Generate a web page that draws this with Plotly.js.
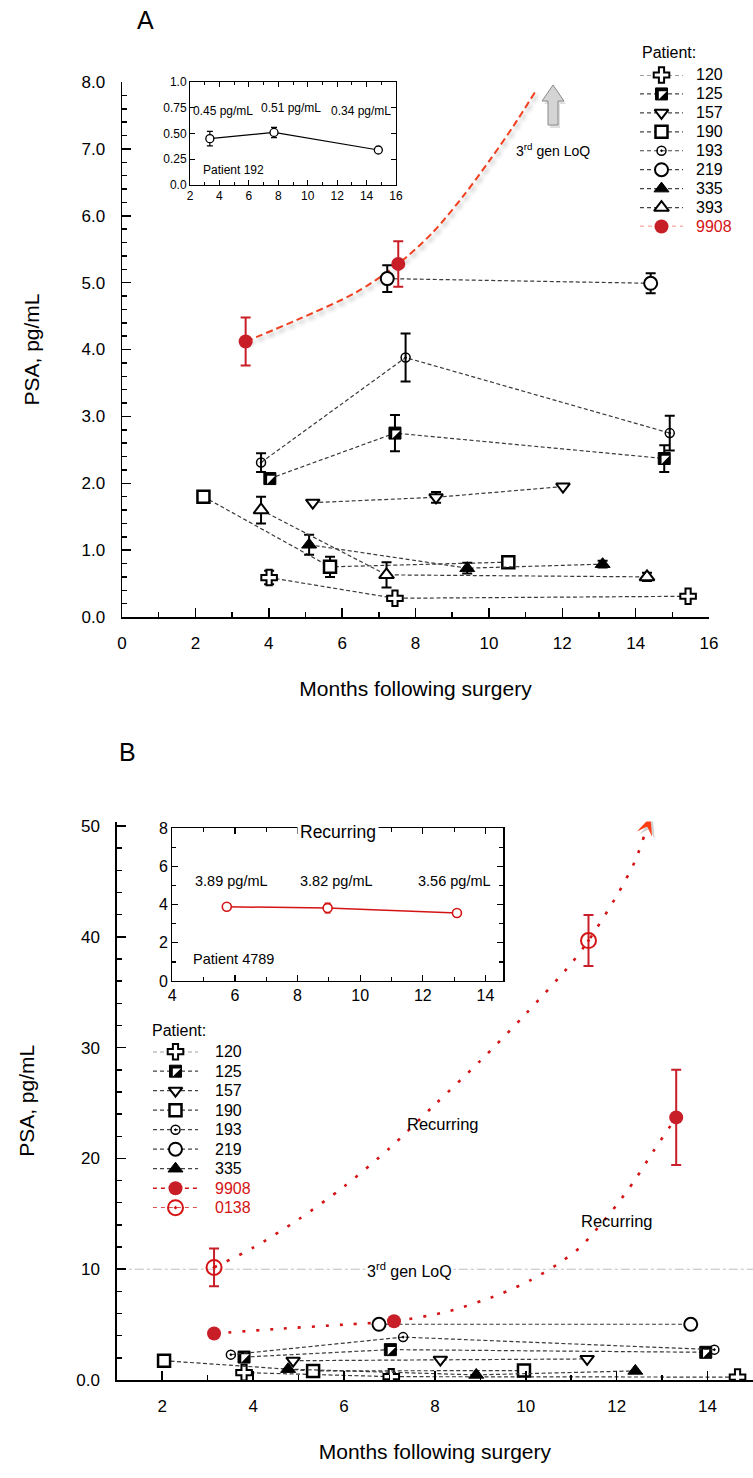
<!DOCTYPE html>
<html><head><meta charset="utf-8">
<script src="https://cdn.plot.ly/plotly-3.0.1.min.js"></script>
<style>html,body{margin:0;padding:0;background:#fff;}#chart{width:753px;height:1478px;}</style>
</head><body><div id="chart"></div>
<script>
// ================= DATA =================
// ---- Panel A: months after surgery / PSA pg/mL / error ----
const am120 = [4.01, 7.44, 15.43], av120 = [0.59, 0.28, 0.31], ae120 = [0.10, NaN, NaN];
const am125 = [4.03, 7.44, 14.78], av125 = [2.07, 2.75, 2.37], ae125 = [NaN, 0.27, 0.20];
const am157 = [5.20, 8.56, 12.02], av157 = [1.71, 1.79, 1.95], ae157 = [NaN, 0.08, NaN];
const am190 = [2.22, 5.67, 10.53], av190 = [1.80, 0.75, 0.82], ae190 = [NaN, 0.15, 0.08];
const am193 = [3.79, 7.73, 14.93], av193 = [2.31, 3.88, 2.75], ae193 = [0.14, 0.36, 0.26];
const am219 = [7.23, 14.41],       av219 = [5.06, 4.99],       ae219 = [0.20, 0.15];
const am335 = [5.10, 9.41, 13.10], av335 = [1.08, 0.73, 0.79], ae335 = [0.15, 0.08, 0.05];
const am393 = [3.79, 7.21, 14.31], av393 = [1.60, 0.63, 0.60], ae393 = [0.20, 0.19, 0.06];
const am9908 = [3.37, 7.53],       av9908 = [4.12, 5.28],      ae9908 = [0.36, 0.34];
const trendA_m = [3.37, 4.80, 6.37, 7.53, 8.47, 9.31, 10.05, 10.68, 11.26];
const trendA_v = [4.12, 4.45, 4.85, 5.28, 5.75, 6.30, 6.85, 7.35, 7.85];

// ---- Panel B ----
const bm120 = [3.80, 7.04, 14.66], bv120 = [0.67, 0.30, 0.26];
const bm125 = [3.80, 7.02, 13.96], bv125 = [2.07, 2.74, 2.50];
const bm157 = [4.88, 8.12, 11.35], bv157 = [1.74, 1.83, 1.90];
const bm190 = [2.04, 5.32, 9.96],  bv190 = [1.74, 0.82, 0.85];
const bm193 = [3.51, 7.30, 14.15], bv193 = [2.29, 3.87, 2.74];
const bm219 = [6.77, 13.63],       bv219 = [5.03, 5.03];
const bm335 = [4.77, 8.91, 12.41], bv335 = [0.98, 0.46, 0.82];
const bm9908 = [3.14, 7.10, 13.31], bv9908 = [4.20, 5.30, 23.7], be9908 = [NaN, NaN, 4.3];
const bm0138 = [3.14, 11.38], bv0138 = [10.16, 39.66], be0138 = [1.7, 2.3];
const trend0138_m = [3.14, 4, 5, 6, 7, 8, 9, 10, 11, 11.38, 12, 12.4, 12.7];
const trend0138_v = [10.16, 11.94, 14.5, 17.46, 20.91, 24.86, 28.81, 33.05, 37.59, 39.66, 43.7, 46.8, 50.3];
const trend9908_m = [3.14, 4.5, 6.0, 7.1, 8.3, 9.4, 10.1, 10.7, 11.2, 11.6, 12.0, 12.4, 12.8, 13.31];
const trend9908_v = [4.20, 4.6, 5.0, 5.30, 6.2, 7.7, 9.0, 10.45, 12.0, 13.8, 15.8, 18.05, 20.6, 23.7];

// ---- insets ----
const inA_m = [3.35, 7.71, 14.8], inA_v = [0.45, 0.51, 0.34], inA_e = [0.07, 0.05, NaN];
const inA_labels = ['0.45 pg/mL', '0.51 pg/mL', '0.34 pg/mL'];
const inB_m = [5.74, 8.96, 13.09], inB_v = [3.89, 3.82, 3.56], inB_e = [NaN, 0.25, NaN];
const inB_labels = ['3.89 pg/mL', '3.82 pg/mL', '3.56 pg/mL'];

const LOQ = 10;
const legendA = ['120', '125', '157', '190', '193', '219', '335', '393', '9908'];
const legendB = ['120', '125', '157', '190', '193', '219', '335', '9908', '0138'];
const yTicksA = [0, 1, 2, 3, 4, 5, 6, 7, 8];
const yTicksB = [0, 10, 20, 30, 40, 50], yTextB = ['0.0', '10', '20', '30', '40', '50'];
const yTicksInA = [0, 0.25, 0.5, 0.75, 1.0], yTextInA = ['0.0', '0.25', '0.50', '0.75', '1.0'];

// ================= STYLE =================
const W = 753, H = 1478;
const FONT = '"Liberation Sans", Arial, sans-serif';
const RED = '#c81e28', RED2 = '#d41414', ORANGE = '#f04020';
const xd = (a, b) => [a / W, b / W];
const yd = (top, bot) => [1 - bot / H, 1 - top / H];
const PX = p => p / W, PY = p => 1 - p / H;

const MK = {
  '120': {symbol: 'cross', size: 13, color: '#fff', line: {color: '#000', width: 2}},
  '125': {symbol: 'square', size: 12, color: '#000', line: {color: '#000', width: 1}},
  '157': {symbol: 'triangle-down', size: 12, color: '#fff', line: {color: '#000', width: 2}},
  '190': {symbol: 'square', size: 12, color: '#fff', line: {color: '#000', width: 2.5}},
  '193': {symbol: 'circle-open-dot', size: 9, color: '#000', line: {color: '#000', width: 1.5}},
  '219': {symbol: 'circle', size: 13, color: '#fff', line: {color: '#000', width: 2}},
  '335': {symbol: 'triangle-up', size: 13, color: '#000', line: {color: '#000', width: 1}},
  '393': {symbol: 'triangle-up', size: 13, color: '#fff', line: {color: '#000', width: 2}},
  '9908': {symbol: 'circle', size: 14, color: RED, line: {color: RED, width: 0}},
  '0138': {symbol: 'circle-open-dot', size: 15, color: RED2, line: {color: RED2, width: 2}}
};
const isRed = k => k === '9908' || k === '0138';
const OVER125 = {symbol: 'triangle-nw', size: 9, color: '#fff', line: {width: 0}};
const DASH_BLK = {color: '#3a3a3a', width: 1.2, dash: '4px,2.5px'};

const panelA = {
  '120': [am120, av120, ae120], '125': [am125, av125, ae125], '157': [am157, av157, ae157],
  '190': [am190, av190, ae190], '193': [am193, av193, ae193], '219': [am219, av219, ae219],
  '335': [am335, av335, ae335], '393': [am393, av393, ae393], '9908': [am9908, av9908, ae9908]
};
const panelB = {
  '120': [bm120, bv120], '125': [bm125, bv125], '157': [bm157, bv157], '190': [bm190, bv190],
  '193': [bm193, bv193], '219': [bm219, bv219], '335': [bm335, bv335],
  '9908': [bm9908, bv9908, be9908], '0138': [bm0138, bv0138, be0138]
};

const traces = [];
const sk = {type: 'scatter', showlegend: false, hoverinfo: 'skip'};
function addSeries(key, d, xa, ya) {
  const red = isRed(key);
  const t = Object.assign({}, sk, {x: d[0], y: d[1], xaxis: xa, yaxis: ya,
    mode: red ? 'markers' : 'lines+markers', line: DASH_BLK, marker: MK[key], name: key});
  if (d[2]) t.error_y = {type: 'data', array: d[2], visible: true, color: red ? RED : '#000', thickness: 2, width: 5};
  traces.push(t);
  if (key === '125') traces.push(Object.assign({}, sk, {x: d[0], y: d[1], xaxis: xa, yaxis: ya, mode: 'markers', marker: OVER125}));
}

// ---------- Panel A ----------
traces.push(Object.assign({}, sk, {x: trendA_m, y: trendA_v, xaxis: 'x', yaxis: 'y', mode: 'lines',
  line: {color: ORANGE, width: 2, dash: '7px,4px', shape: 'spline', smoothing: 0.8}}));
Object.keys(panelA).forEach(k => addSeries(k, panelA[k], 'x', 'y'));
traces.push(Object.assign({}, sk, {x: inA_m, y: inA_v, xaxis: 'x2', yaxis: 'y2', mode: 'lines+markers',
  line: {color: '#000', width: 1.2}, marker: {symbol: 'circle', size: 8, color: '#fff', line: {color: '#000', width: 1.3}},
  error_y: {type: 'data', array: inA_e, color: '#000', thickness: 1.2, width: 3}}));

// ---------- Panel B ----------
const DOT_RED = {color: RED2, width: 2.6, dash: '3px,11px', shape: 'spline', smoothing: 0.8};
traces.push(Object.assign({}, sk, {x: trend0138_m, y: trend0138_v, xaxis: 'x3', yaxis: 'y3', mode: 'lines', line: DOT_RED}));
traces.push(Object.assign({}, sk, {x: trend9908_m, y: trend9908_v, xaxis: 'x3', yaxis: 'y3', mode: 'lines', line: DOT_RED}));
Object.keys(panelB).forEach(k => addSeries(k, panelB[k], 'x3', 'y3'));
traces.push(Object.assign({}, sk, {x: inB_m, y: inB_v, xaxis: 'x4', yaxis: 'y4', mode: 'lines+markers',
  line: {color: RED2, width: 1.5}, marker: {symbol: 'circle', size: 9, color: '#fff', line: {color: RED2, width: 1.6}},
  error_y: {type: 'data', array: inB_e, color: RED2, thickness: 1.4, width: 3}}));

const B_X0 = 116.8, B_X1 = 753, B_YT = 821.6, B_YB = 1380, B_XR = [1, 15], B_YR = [0, 50.4];

// ---------- custom legends ----------
const annotations = [];
function buildLegend(names, xa, ya, textX, redExt) {
  names.forEach((k, i) => {
    const red = isRed(k);
    const x0 = red ? redExt[0] : 0, x1 = red ? redExt[1] : 1;
    traces.push(Object.assign({}, sk, {x: [x0, x1], y: [i, i], xaxis: xa, yaxis: ya, mode: 'lines', cliponaxis: false,
      line: red ? {color: xa === 'x5' ? '#f07060' : RED2, width: 1.5, dash: '4px,4px'} : {color: '#444', width: 1.2, dash: '4px,3px'}}));
    traces.push(Object.assign({}, sk, {x: [0.5], y: [i], xaxis: xa, yaxis: ya, mode: 'markers', cliponaxis: false, marker: MK[k]}));
    if (k === '125') traces.push(Object.assign({}, sk, {x: [0.5], y: [i], xaxis: xa, yaxis: ya, mode: 'markers', cliponaxis: false, marker: OVER125}));
    annotations.push({xref: 'paper', yref: ya, x: textX, y: i, xanchor: 'left', yanchor: 'middle', showarrow: false, text: k,
      font: {family: FONT, size: 16, color: red ? RED2 : '#000'}});
  });
}
buildLegend(legendA, 'x5', 'y5', PX(694), [0, 1]);
buildLegend(legendB, 'x6', 'y6', PX(213), [-0.18, 1.16]);

// ---------- annotations ----------
const txt = (x, y, t, size, extra) => Object.assign({xref: 'paper', yref: 'paper', x: PX(x), y: PY(y), text: t, showarrow: false,
  xanchor: 'center', yanchor: 'middle', font: {family: FONT, size: size, color: '#000'}}, extra || {});
annotations.push(txt(145, 20, 'A', 25));
annotations.push(txt(128, 752, 'B', 25));
annotations.push(txt(640, 52, 'Patient:', 16, {xanchor: 'left'}));
annotations.push(txt(150, 1030, 'Patient:', 16, {xanchor: 'left'}));
annotations.push(txt(553, 150, '3<sup>rd</sup> gen LoQ', 14));
annotations.push(txt(223, 111, inA_labels[0], 12));
annotations.push(txt(291, 108, inA_labels[1], 12));
annotations.push(txt(361, 111, inA_labels[2], 12));
annotations.push(txt(201, 170, 'Patient 192', 12, {xanchor: 'left'}));
annotations.push(txt(231, 881, inB_labels[0], 14.5));
annotations.push(txt(336, 881, inB_labels[1], 14.5));
annotations.push(txt(454, 881, inB_labels[2], 14.5));
annotations.push(txt(191, 959, 'Patient 4789', 14.5, {xanchor: 'left'}));
annotations.push(txt(338, 832, 'Recurring', 17.5, {bgcolor: '#fff', borderpad: 2}));
annotations.push(txt(443, 1124, 'Recurring', 16.5));
annotations.push(txt(617, 1221, 'Recurring', 16.5));
annotations.push(txt(410, 1270, '3<sup>rd</sup> gen LoQ', 16, {bgcolor: '#fff', borderpad: 1}));

// ---------- shapes ----------
const shapes = [
  {type: 'line', xref: 'x3', yref: 'y3', x0: B_XR[0], x1: B_XR[1], y0: LOQ, y1: LOQ, line: {color: '#bdbdbd', width: 1, dash: 'dashdot'}, layer: 'below'},
  {type: 'path', xref: 'paper', yref: 'paper',
   path: `M${PX(555)},${PY(88)} L${PX(566)},${PY(104)} L${PX(560)},${PY(104)} L${PX(560)},${PY(128)} L${PX(550)},${PY(128)} L${PX(550)},${PY(104)} L${PX(544)},${PY(104)} Z`,
   fillcolor: 'rgba(0,0,0,0.12)', line: {width: 0}},
  {type: 'path', xref: 'paper', yref: 'paper',
   path: `M${PX(553)},${PY(85)} L${PX(564)},${PY(101)} L${PX(558)},${PY(101)} L${PX(558)},${PY(125)} L${PX(548)},${PY(125)} L${PX(548)},${PY(101)} L${PX(542)},${PY(101)} Z`,
   fillcolor: '#d4d4d4', line: {color: '#8a8a8a', width: 1}}
];

// stealth arrow head at the end of the 0138 trend, oriented along its last segment
{
  const n = trend0138_m.length;
  const pxX = (B_X1 - B_X0) / (B_XR[1] - B_XR[0]), pxY = (B_YB - B_YT) / (B_YR[1] - B_YR[0]);
  const dx = (trend0138_m[n - 1] - trend0138_m[n - 2]) * pxX, dy = (trend0138_v[n - 1] - trend0138_v[n - 2]) * pxY;
  const len = Math.hypot(dx, dy), ux = dx / len, uy = dy / len, vx = -uy, vy = ux;
  const L = 18, Wd = 8, notch = 0.55, ext = 6;
  const tipX = trend0138_m[n - 1] + ux * ext / pxX, tipY = trend0138_v[n - 1] + uy * ext / pxY;
  const pt = (ox, oy, sh) => `${tipX + (ox + sh) / pxX},${tipY + (oy - sh) / pxY}`;
  const head = sh => `M${pt(0, 0, sh)} L${pt(-ux * L + vx * Wd, -uy * L + vy * Wd, sh)} L${pt(-ux * L * notch, -uy * L * notch, sh)} L${pt(-ux * L - vx * Wd, -uy * L - vy * Wd, sh)} Z`;
  shapes.push({type: 'path', xref: 'x3', yref: 'y3', path: head(2.5), fillcolor: 'rgba(0,0,0,0.18)', line: {width: 0}});
  shapes.push({type: 'path', xref: 'x3', yref: 'y3', path: head(0), fillcolor: '#ff3c14', line: {width: 0}});
}

// ---------- axes ----------
const tf = s => ({family: FONT, size: s, color: '#000'});
const base = {showline: true, linecolor: '#000', linewidth: 1.5, ticks: 'inside', tickcolor: '#000', tickwidth: 1.5,
  showgrid: false, zeroline: false, fixedrange: true};
const hidden = {visible: false, fixedrange: true, showgrid: false, zeroline: false};
const minor = (dt, len, w) => ({ticks: 'inside', dtick: dt, ticklen: len, tickcolor: '#000', tickwidth: w});

const layout = {
  width: W, height: H, margin: {l: 0, r: 0, t: 0, b: 0},
  paper_bgcolor: '#fff', plot_bgcolor: 'rgba(0,0,0,0)', showlegend: false,
  font: {family: FONT, color: '#000'},
  xaxis: Object.assign({}, base, {domain: xd(122, 709), range: [0, 16], tick0: 0, dtick: 2, ticklen: 9, anchor: 'y',
    tickfont: tf(17), ticklabelstandoff: 10, minor: minor(1, 5, 1.5),
    title: {text: 'Months following surgery', font: tf(21), standoff: 29}}),
  yaxis: Object.assign({}, base, {domain: yd(82, 617), range: [0, 8], tickvals: yTicksA, tickformat: '.1f', ticklen: 9, anchor: 'x',
    tickfont: tf(17), ticklabelstandoff: 12, minor: minor(0.2, 5, 1.5),
    title: {text: 'PSA, pg/mL', font: tf(21), standoff: 36}}),
  xaxis2: Object.assign({}, base, {domain: xd(190, 396), range: [2, 16], tick0: 0, dtick: 2, ticklen: 5, anchor: 'y2', mirror: 'allticks',
    linewidth: 1, tickwidth: 1, tickfont: tf(12), minor: minor(1, 3, 1)}),
  yaxis2: Object.assign({}, base, {domain: yd(82, 185), range: [0, 1], tickvals: yTicksInA, ticktext: yTextInA, ticklen: 5, anchor: 'x2',
    mirror: 'allticks', linewidth: 1, tickwidth: 1, tickfont: tf(12)}),
  xaxis3: Object.assign({}, base, {domain: xd(B_X0, B_X1), range: B_XR, tick0: 0, dtick: 2, ticklen: 9, anchor: 'y3',
    tickfont: tf(17), ticklabelstandoff: 10, minor: minor(1, 5, 1.5),
    title: {text: 'Months following surgery', font: tf(21), standoff: 29}}),
  yaxis3: Object.assign({}, base, {domain: yd(B_YT, B_YB), range: B_YR, tickvals: yTicksB, ticktext: yTextB, ticklen: 9, anchor: 'x3',
    tickfont: tf(17), ticklabelstandoff: 12, minor: minor(2, 5, 1.5),
    title: {text: 'PSA, pg/mL', font: tf(21), standoff: 36}}),
  xaxis4: Object.assign({}, base, {domain: xd(172.3, 503.3), range: [4, 14.57], tick0: 0, dtick: 2, ticklen: 6, anchor: 'y4', mirror: 'allticks',
    linewidth: 1.2, tickwidth: 1.2, tickfont: tf(16), minor: minor(1, 4, 1.2)}),
  yaxis4: Object.assign({}, base, {domain: yd(828.3, 981), range: [0, 8], tick0: 0, dtick: 2, ticklen: 6, anchor: 'x4', mirror: 'allticks',
    linewidth: 1.2, tickwidth: 1.2, tickfont: tf(16), minor: minor(1, 4, 1.2)}),
  xaxis5: Object.assign({}, hidden, {domain: xd(640, 683), range: [0, 1], anchor: 'y5'}),
  yaxis5: Object.assign({}, hidden, {domain: yd(75, 226.5), range: [legendA.length - 1, 0], anchor: 'x5'}),
  xaxis6: Object.assign({}, hidden, {domain: xd(153, 198), range: [0, 1], anchor: 'y6'}),
  yaxis6: Object.assign({}, hidden, {domain: yd(1051.7, 1207.7), range: [legendB.length - 1, 0], anchor: 'x6'}),
  annotations: annotations, shapes: shapes
};

Plotly.newPlot('chart', traces, layout, {displayModeBar: false, staticPlot: true}).then(gd => {
  gd.querySelectorAll('path.js-line').forEach(p => {
    const st = (p.style.stroke || p.getAttribute('stroke') || '').replace(/\s/g, '');
    if (st === 'rgb(240,64,32)') p.style.filter = 'drop-shadow(2px 3px 2px rgba(0,0,0,0.35))';
  });
});
</script></body></html>
